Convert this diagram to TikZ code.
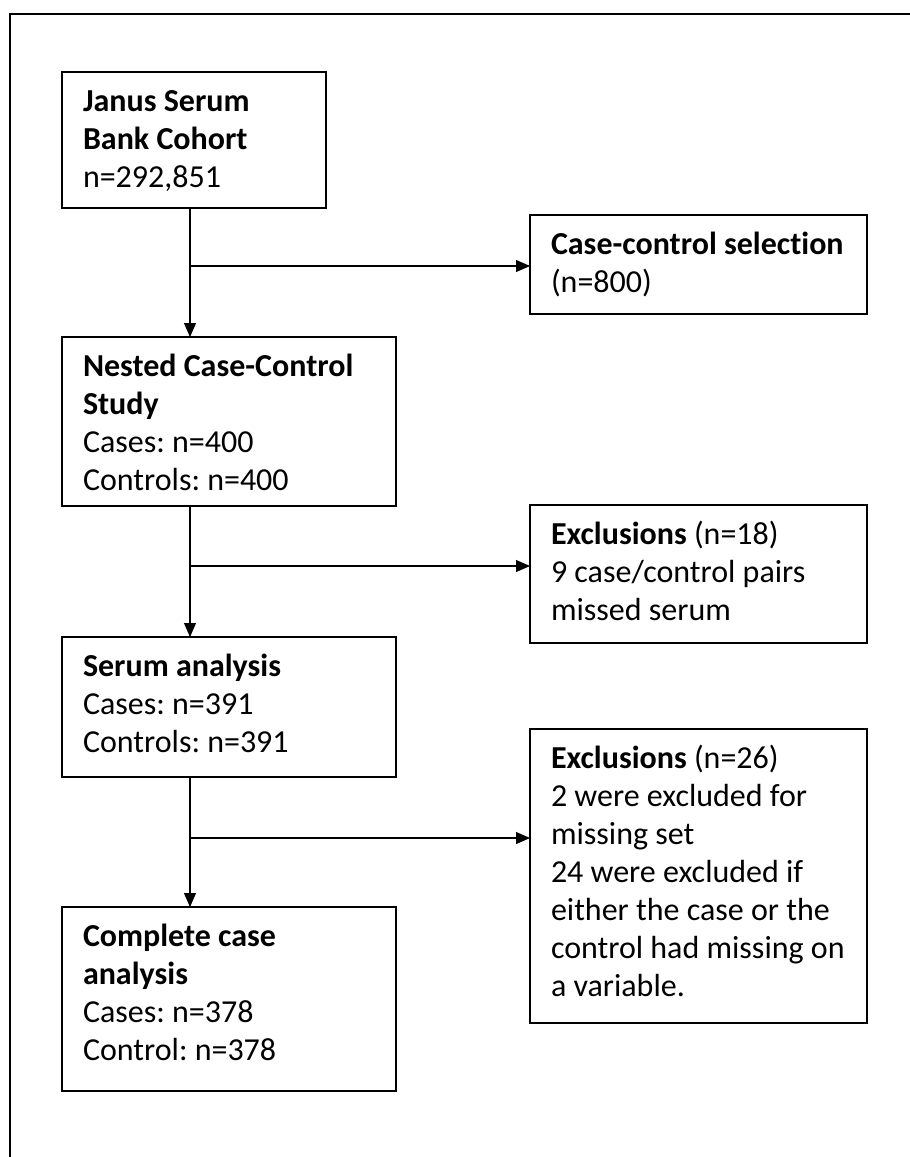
\documentclass[tikz,border=0pt]{standalone}
\usepackage{fontspec}
\setmainfont[Ligatures=NoCommon]{Carlito}
\usepackage{tikz}
\usetikzlibrary{arrows.meta}

\tikzset{
  stagebox/.style={draw, rectangle, line width=2pt, anchor=north west, inner xsep=21pt, inner ysep=0pt, outer sep=0pt},
  flow/.style={line width=1.1pt, -{Triangle[length=14pt,width=12pt]}}
}
\newcommand{\stagetext}[3]{\parbox[c][#2][t]{#1}{\raggedright\rule{0pt}{39pt}#3}}

\begin{document}
\begin{tikzpicture}[x=1pt, y=-1pt]
\useasboundingbox (0,0) rectangle (910,1157);
\fontsize{32}{38}\selectfont\frenchspacing

% Outer frame
\draw[line width=2.7pt] (10,1157) -- (10,14) -- (911,14);

% Main column
\node[stagebox] (janus) at (62,72) {\stagetext{222pt}{136pt}{%
    \textbf{Janus Serum}\\
    \textbf{Bank Cohort}\\
    n=292,851}};

\node[stagebox] (nested) at (62,337) {\stagetext{292pt}{169pt}{%
    \textbf{Nested Case-Control}\\
    \textbf{Study}\\
    Cases: n=400\\
    Controls: n=400}};

\node[stagebox] (serum) at (62,637) {\stagetext{292pt}{140pt}{%
    \textbf{Serum analysis}\\
    Cases: n=391\\
    Controls: n=391}};

\node[stagebox] (complete) at (62,907) {\stagetext{292pt}{184pt}{%
    \textbf{Complete case}\\
    \textbf{analysis}\\
    Cases: n=378\\
    Control: n=378}};

% Side boxes
\node[stagebox] (selection) at (530,215) {\stagetext{295pt}{99pt}{%
    \textbf{Case-control selection}\\
    (n=800)}};

\node[stagebox] (exclA) at (530,505) {\stagetext{295pt}{138pt}{%
    \textbf{Exclusions} (n=18)\\
    9 case/control pairs\\
    missed serum}};

\node[stagebox] (exclB) at (530,729) {\stagetext{295pt}{294pt}{%
    \textbf{Exclusions} (n=26)\\
    2 were excluded for\\
    missing set\\
    24 were excluded if\\
    either the case or the\\
    control had missing on\\
    a variable.}};

% Vertical arrows
\coordinate (spine) at (190,0);
\draw[flow] (spine |- janus.south) -- (spine |- nested.north);
\draw[flow] (spine |- nested.south) -- (spine |- serum.north);
\draw[flow] (spine |- serum.south) -- (spine |- complete.north);

% Branch arrows
\coordinate (splitA) at (190,266);
\coordinate (splitB) at (190,566);
\coordinate (splitC) at (190,838);
\draw[flow] (splitA) -- (splitA -| selection.west);
\draw[flow] (splitB) -- (splitB -| exclA.west);
\draw[flow] (splitC) -- (splitC -| exclB.west);
\end{tikzpicture}
\end{document}
